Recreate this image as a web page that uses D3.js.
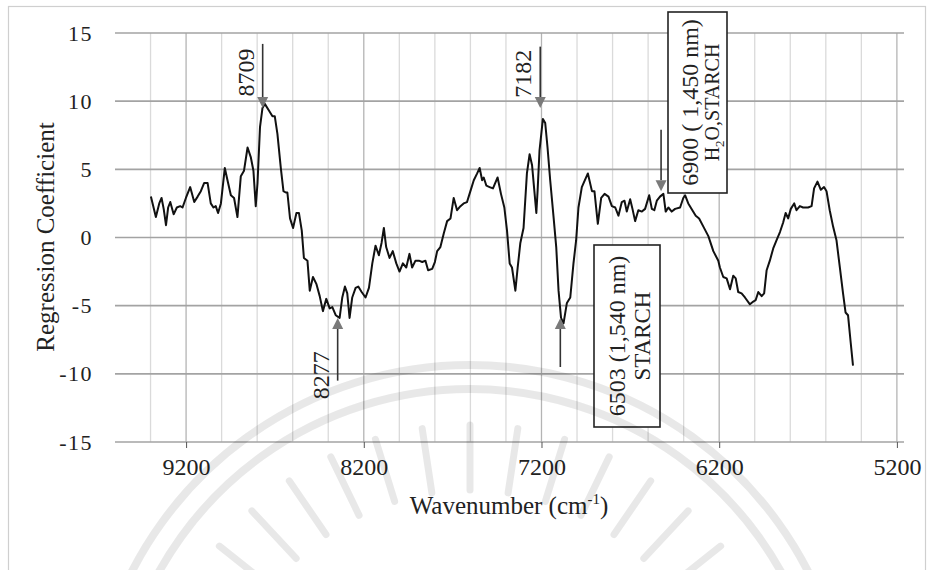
<!DOCTYPE html>
<html>
<head>
<meta charset="utf-8">
<script src="https://cdn.jsdelivr.net/npm/d3@7/dist/d3.min.js"></script>
<style>
  html, body { margin: 0; padding: 0; background: #fff; }
  svg { display: block; font-family: "Liberation Serif", "Times New Roman", serif; }
</style>
</head>
<body>
<svg id="chart" width="931" height="570"></svg>
<script>
// PLS regression coefficients over the NIR wavenumber range
const wavenumber = [
  9398, 9370, 9351, 9338, 9326, 9313, 9301, 9289, 9270, 9252, 9233, 9220, 9201, 9177, 9154, 9135,
  9117, 9098, 9079, 9061, 9046, 9033, 9020, 9004, 8982, 8967, 8948, 8930, 8911, 8892, 8874, 8854,
  8836, 8821, 8808, 8798, 8784, 8770, 8757, 8733, 8714, 8701, 8686, 8667, 8652, 8639, 8630, 8615,
  8598, 8579, 8565, 8549, 8537, 8517, 8504, 8486, 8467, 8448, 8430, 8411, 8392, 8377, 8358, 8336,
  8321, 8306, 8293, 8280, 8265, 8246, 8231, 8212, 8190, 8171, 8152, 8134, 8115, 8100, 8087, 8074,
  8055, 8037, 8017, 7999, 7980, 7961, 7943, 7928, 7909, 7890, 7871, 7853, 7838, 7815, 7800, 7787,
  7769, 7750, 7731, 7712, 7694, 7675, 7656, 7638, 7619, 7600, 7581, 7562, 7548, 7534, 7525, 7510,
  7492, 7473, 7460, 7447, 7428, 7409, 7394, 7379, 7366, 7347, 7334, 7319, 7301, 7282, 7267, 7253,
  7240, 7229, 7222, 7211, 7192, 7179, 7166, 7151, 7132, 7117, 7104, 7090, 7076, 7057, 7038, 7020,
  7005, 6992, 6973, 6939, 6916, 6902, 6883, 6864, 6845, 6823, 6804, 6785, 6767, 6748, 6733, 6720,
  6701, 6688, 6673, 6655, 6635, 6617, 6594, 6579, 6565, 6551, 6533, 6514, 6501, 6486, 6467, 6448,
  6420, 6402, 6392, 6374, 6351, 6332, 6313, 6289, 6261, 6233, 6205, 6196, 6177, 6158, 6139, 6121,
  6107, 6093, 6074, 6055, 6027, 6008, 5995, 5980, 5961, 5947, 5933, 5915, 5896, 5877, 5858, 5840,
  5826, 5812, 5797, 5778, 5765, 5746, 5728, 5700, 5680, 5666, 5647, 5628, 5610, 5596, 5578, 5559,
  5540, 5521, 5503, 5489, 5475, 5460, 5447
];
const coefficient = [
  3.0, 1.5, 2.5, 2.9, 2.1, 0.9, 2.2, 2.6, 1.7, 2.2, 2.3, 2.2, 2.9, 3.7, 2.6, 3.0,
  3.4, 4.0, 4.0, 2.5, 2.2, 2.3, 1.8, 2.5, 5.1, 4.2, 3.1, 2.9, 1.5, 4.5, 4.9, 6.6,
  5.9, 4.9, 2.3, 4.0, 8.1, 9.5, 9.8, 9.3, 8.9, 8.9, 7.6, 5.1, 3.4, 3.3, 3.3, 1.4,
  0.7, 1.8, 1.8, 0.5, -1.5, -1.7, -3.9, -2.9, -3.4, -4.3, -5.4, -4.5, -5.2, -5.1, -5.7, -5.9,
  -4.4, -3.6, -4.1, -5.9, -4.4, -3.7, -3.6, -4.0, -4.4, -3.7, -1.9, -0.6, -1.3, -0.4, 0.7, -0.7,
  -1.5, -1.0, -1.9, -2.5, -1.9, -2.2, -1.2, -2.2, -1.7, -1.7, -1.8, -1.7, -2.4, -2.3, -1.8, -1.0,
  -0.7, 0.3, 1.2, 1.4, 2.9, 2.0, 2.3, 2.5, 2.6, 3.4, 4.2, 4.7, 5.1, 4.2, 4.4, 3.8,
  3.7, 3.6, 4.0, 4.4, 3.2, 2.2, 0.5, -1.9, -2.2, -3.9, -2.2, -0.4, 0.7, 4.7, 6.1, 5.3,
  3.4, 1.8, 3.4, 6.4, 8.7, 8.4, 6.6, 4.2, 1.5, -0.7, -3.9, -5.9, -6.3, -4.8, -4.4, -1.9,
  -0.2, 2.2, 3.7, 4.7, 3.4, 3.4, 1.0, 2.9, 3.2, 3.0, 2.3, 2.2, 1.6, 2.6, 2.7, 1.9,
  2.8, 2.1, 1.2, 2.0, 1.9, 2.1, 3.1, 2.1, 2.0, 2.7, 3.0, 3.2, 1.9, 2.2, 1.9, 2.1,
  2.2, 2.9, 3.1, 2.5, 2.0, 1.6, 1.4, 0.8, 0.1, -1.0, -1.7, -2.2, -2.9, -3.0, -3.8, -2.8,
  -3.0, -4.0, -4.1, -4.4, -4.9, -4.7, -4.6, -4.0, -4.3, -4.1, -2.4, -1.7, -0.8, -0.2, 0.4, 1.1,
  1.8, 1.4, 2.1, 2.5, 2.0, 2.3, 2.2, 2.2, 2.3, 3.6, 4.1, 3.5, 3.7, 3.4, 2.0, 0.8,
  -0.2, -2.2, -4.1, -5.5, -5.7, -7.7, -9.4
];

// axis ticks
const xTickLabels = [9200, 8200, 7200, 6200, 5200];
const xGridValues = d3.range(9400, 5199, -200);
const yTickLabels = [15, 10, 5, 0, -5, -10, -15];

// arrow annotations: label text, axis position of the arrow, arrow tail / tip values
const arrowLabel = ["8709", "7182", "", "8277", ""];
const arrowAt    = [8769, 7207, 6527, 8347, 7094];
const arrowTail  = [14.2, 14.0, 7.9, -10.5, -9.5];
const arrowTip   = [9.5, 9.5, 3.4, -5.9, -5.9];

// boxed band assignments
const boxLine1 = ["6900 ( 1,450 nm)", "6503 (1,540 nm)"];
const boxLine2 = [["H", "2", "O,STARCH"], ["STARCH", "", ""]];

const svg = d3.select("#chart");

const x = d3.scaleLinear().domain([9600, 5160]).range([115, 904]);
const y = d3.scaleLinear().domain([-15, 15]).range([442, 33]);

// outer frame
svg.append("rect")
  .attr("x", 8.5).attr("y", 6.5).attr("width", 917).attr("height", 620)
  .attr("fill", "none").attr("stroke", "#cfcfcf").attr("stroke-width", 1.2);

// vertical grid
const gx = svg.append("g");
gx.selectAll("line").data(xGridValues).join("line")
  .attr("x1", d => x(d)).attr("x2", d => x(d))
  .attr("y1", y(15)).attr("y2", y(-15))
  .attr("stroke", d => xTickLabels.includes(d) ? "#b4b4b4" : "#dadada")
  .attr("stroke-width", 1.3);

// horizontal grid
const gy = svg.append("g");
gy.selectAll("line").data(yTickLabels).join("line")
  .attr("x1", x.range()[0]).attr("x2", x.range()[1])
  .attr("y1", d => y(d)).attr("y2", d => y(d))
  .attr("stroke", "#a3a3a3").attr("stroke-width", 1.6);

// x axis with outward ticks at the labelled positions
const xAxis = d3.axisBottom(x).tickValues(xTickLabels).tickSize(6).tickPadding(10).tickFormat(d => String(d));
const gxa = svg.append("g").attr("transform", `translate(0,${y(-15)})`).call(xAxis);
gxa.select(".domain").remove();
gxa.selectAll(".tick line").attr("stroke", "#555");
gxa.selectAll(".tick text")
  .attr("font-family", "Liberation Serif, serif").attr("font-size", 24).attr("fill", "#222")
  .attr("dy", "0.71em");

// y axis labels (plain hyphen for negatives)
const yAxis = d3.axisLeft(y).tickValues(yTickLabels).tickSize(0).tickPadding(22).tickFormat(d => String(d));
const gya = svg.append("g").attr("transform", `translate(${x.range()[0]},0)`).call(yAxis);
gya.select(".domain").remove();
gya.selectAll(".tick text")
  .attr("font-family", "Liberation Serif, serif").attr("font-size", 22).attr("fill", "#222")
  .attr("letter-spacing", "1.5px");

// axis titles
const xt = svg.append("text")
  .attr("x", 509).attr("y", 514).attr("text-anchor", "middle")
  .attr("font-size", 25).attr("fill", "#222");
xt.append("tspan").text("Wavenumber  (cm");
xt.append("tspan").attr("font-size", 15).attr("dy", -10).text("-1");
xt.append("tspan").attr("dy", 10).text(")");

svg.append("text")
  .attr("transform", "translate(54,237) rotate(-90)")
  .attr("text-anchor", "middle")
  .attr("font-size", 25).attr("fill", "#222")
  .text("Regression Coefficient");

// spectrum line
const pts = wavenumber.map((w, i) => [w, coefficient[i]]);
svg.append("path")
  .datum(pts)
  .attr("fill", "none").attr("stroke", "#111").attr("stroke-width", 2)
  .attr("stroke-linejoin", "round")
  .attr("d", d3.line().x(d => x(d[0])).y(d => y(d[1])));

// arrows
const ga = svg.append("g");
arrowAt.forEach((w, i) => {
  const xp = x(w), yt = y(arrowTail[i]), yh = y(arrowTip[i]);
  const dir = yh > yt ? 1 : -1; // 1 = pointing down
  const headLen = 11, headHalf = 5.5;
  ga.append("line")
    .attr("x1", xp).attr("x2", xp)
    .attr("y1", yt).attr("y2", yh - dir * headLen)
    .attr("stroke", "#333").attr("stroke-width", 1.6);
  ga.append("path")
    .attr("d", `M${xp - headHalf},${yh - dir * headLen} L${xp + headHalf},${yh - dir * headLen} L${xp},${yh} Z`)
    .attr("fill", "#7a7a7a");
  if (arrowLabel[i]) {
    const ly = dir === 1 ? (yt + yh - headLen) / 2 + 2 : (yt + yh) / 2 + 26;
    ga.append("text")
      .attr("transform", `translate(${xp - 9},${ly}) rotate(-90)`)
      .attr("text-anchor", "middle")
      .attr("font-size", 24).attr("fill", "#222")
      .text(arrowLabel[i]);
  }
});

// boxed labels
const boxes = [
  { x0: 668, x1: 727, y0: 12, y1: 193, b1: 698, b2: 719, f2: 20 },
  { x0: 594, x1: 660, y0: 245, y1: 427, b1: 625, b2: 650, f2: 23 }
];
boxes.forEach((b, i) => {
  svg.append("rect")
    .attr("x", b.x0).attr("y", b.y0).attr("width", b.x1 - b.x0).attr("height", b.y1 - b.y0)
    .attr("fill", "#fff").attr("stroke", "#222").attr("stroke-width", 1.6);
  const cy = (b.y0 + b.y1) / 2;
  svg.append("text")
    .attr("transform", `translate(${b.b1},${cy}) rotate(-90)`)
    .attr("text-anchor", "middle").attr("font-size", 24).attr("fill", "#222")
    .text(boxLine1[i]);
  const t2 = svg.append("text")
    .attr("transform", `translate(${b.b2},${cy}) rotate(-90)`)
    .attr("text-anchor", "middle").attr("font-size", b.f2).attr("fill", "#222");
  const parts = boxLine2[i];
  t2.append("tspan").text(parts[0]);
  if (parts[1]) {
    t2.append("tspan").attr("font-size", b.f2 * 0.65).attr("dy", 5).text(parts[1]);
    t2.append("tspan").attr("dy", -5).text(parts[2]);
  }
});

// faint seal watermark: two concentric rings and a fan of short rays
const wm = svg.append("g").attr("fill", "none").attr("stroke", "#000").attr("stroke-opacity", 0.09)
  .attr("stroke-linecap", "round");
const cx = 470, cyc = 745;
[380, 356].forEach(r => {
  wm.append("path")
    .attr("d", d3.arc()({ innerRadius: r, outerRadius: r, startAngle: -1.25, endAngle: 1.25 }))
    .attr("transform", `translate(${cx},${cyc})`)
    .attr("stroke-width", 8);
});
d3.range(-0.9, 0.91, 0.15).forEach(a => {
  const r0 = 255, r1 = 320;
  wm.append("line")
    .attr("x1", cx + r0 * Math.sin(a)).attr("y1", cyc - r0 * Math.cos(a))
    .attr("x2", cx + r1 * Math.sin(a)).attr("y2", cyc - r1 * Math.cos(a))
    .attr("stroke-width", 7);
});
</script>
</body>
</html>
